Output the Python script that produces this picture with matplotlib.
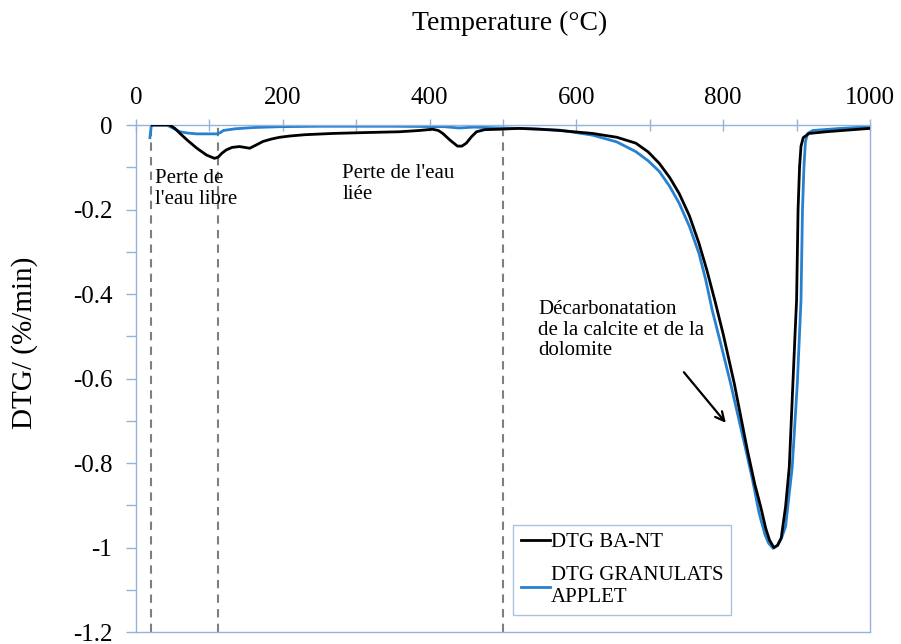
import matplotlib
matplotlib.use('Agg')
import matplotlib.pyplot as plt
from matplotlib.ticker import MultipleLocator

# DTG curves
temp_bant = [22, 35, 46, 53, 60, 70, 83, 96, 107, 112, 117, 123, 131, 141, 148, 155, 163, 173,
             185, 196, 210, 230, 268, 310, 359, 386, 404, 412, 418, 428, 438, 444, 450, 457, 464,
             475, 495, 522, 550, 577, 622, 655, 681, 698, 713, 727, 740, 754, 767, 778, 789, 800,
             815, 833, 843, 851, 858, 863, 869, 874, 879, 885, 890, 894, 898, 900, 902, 904, 906,
             909, 917, 940, 962, 1000]
dtg_bant = [0, 0, 0, -0.008, -0.020, -0.036, -0.055, -0.071, -0.079, -0.076, -0.067, -0.059,
            -0.053, -0.051, -0.053, -0.055, -0.048, -0.039, -0.033, -0.029, -0.026, -0.023, -0.020,
            -0.018, -0.016, -0.013, -0.010, -0.013, -0.020, -0.036, -0.050, -0.050, -0.043, -0.028,
            -0.016, -0.011, -0.010, -0.008, -0.010, -0.013, -0.020, -0.029, -0.043, -0.064, -0.091,
            -0.124, -0.162, -0.215, -0.280, -0.345, -0.418, -0.495, -0.611, -0.770, -0.850, -0.903,
            -0.955, -0.982, -1.000, -0.995, -0.978, -0.903, -0.810, -0.650, -0.490, -0.414, -0.200,
            -0.100, -0.050, -0.030, -0.020, -0.016, -0.013, -0.008]

temp_appl = [19, 21, 30, 42, 50, 60, 70, 83, 110, 115, 119, 135, 160, 196, 250, 350, 420, 440,
             460, 500, 540, 577, 622, 655, 681, 698, 713, 727, 740, 754, 767, 776, 785, 797, 810,
             831, 840, 849, 857, 862, 868, 874, 880, 885, 894, 901, 906, 908, 910, 912, 915, 922,
             960, 1000]
dtg_appl = [-0.030, 0, 0, 0, -0.007, -0.016, -0.019, -0.021, -0.021, -0.018, -0.013, -0.009,
            -0.006, -0.004, -0.003, -0.003, -0.004, -0.007, -0.005, -0.007, -0.009, -0.012, -0.024,
            -0.040, -0.063, -0.085, -0.110, -0.145, -0.185, -0.240, -0.304, -0.365, -0.438, -0.520,
            -0.611, -0.770, -0.840, -0.919, -0.970, -0.990, -1.002, -0.995, -0.975, -0.950, -0.810,
            -0.611, -0.414, -0.200, -0.100, -0.040, -0.020, -0.013, -0.008, -0.004]

step_limits = [20, 112, 500]
y_ticks = [0, -0.2, -0.4, -0.6, -0.8, -1.0, -1.2]
y_labels = ['0', '-0.2', '-0.4', '-0.6', '-0.8', '-1', '-1.2']

plt.rcParams['font.family'] = ['Liberation Serif', 'DejaVu Serif']
frame_col = '#95B3D7'

fig = plt.figure(figsize=(9.01, 6.44), dpi=100)
ax = fig.add_axes([0.1509, 0.0186, 0.8147, 0.7873])

for t in step_limits:
    ax.axvline(t, color='#7f7f7f', linestyle=(0, (4, 3)), linewidth=1.5, zorder=1)

ax.plot(temp_bant, dtg_bant, color='black', linewidth=2.0, label='DTG BA-NT', zorder=3)
ax.plot(temp_appl, dtg_appl, color='#2681D0', linewidth=2.0, label='DTG GRANULATS\nAPPLET',
        zorder=2)

ax.set_xlim(0, 1000)
ax.set_ylim(-1.2, 0)
ax.xaxis.tick_top()
ax.xaxis.set_major_locator(MultipleLocator(200))
ax.xaxis.set_minor_locator(MultipleLocator(100))
ax.set_yticks(y_ticks)
ax.set_yticklabels(y_labels)
ax.yaxis.set_minor_locator(MultipleLocator(0.1))

ax.tick_params(axis='x', which='both', direction='inout', length=9, width=1,
               color=frame_col, labelsize=18, pad=7)
ax.tick_params(axis='y', which='both', direction='out', length=7, width=1,
               color=frame_col, labelsize=18, pad=10)
for s in ax.spines.values():
    s.set_color(frame_col)
    s.set_linewidth(1)

fig.text(510 / 901, 1 - 23 / 644, 'Temperature (°C)', fontsize=20, ha='center', va='center')
fig.text(25 / 901, 1 - 343 / 644, 'DTG/ (%/min)', fontsize=21, rotation=90,
         ha='center', va='center')

ax.text(26, -0.105, "Perte de\nl'eau libre", fontsize=15, va='top', ha='left',
        linespacing=1.15)
ax.text(281, -0.092, "Perte de l'eau\nliée", fontsize=15, va='top', ha='left',
        linespacing=1.15)
ax.text(548, -0.415, "Décarbonatation\nde la calcite et de la\ndolomite", fontsize=15,
        va='top', ha='left', linespacing=1.1)
ax.annotate('', xy=(806, -0.71), xytext=(744, -0.58),
            arrowprops=dict(arrowstyle='->', color='black', lw=1.6, mutation_scale=16))

leg = ax.legend(loc='upper left', bbox_to_anchor=(0.514, 0.211), fontsize=15, frameon=True,
                fancybox=False, borderaxespad=0, handlelength=1.4, handletextpad=0.05,
                labelspacing=0.7, borderpad=0.35)
leg.get_frame().set_edgecolor(frame_col)
leg.get_frame().set_linewidth(1)

fig.savefig('out.png', dpi=100)
